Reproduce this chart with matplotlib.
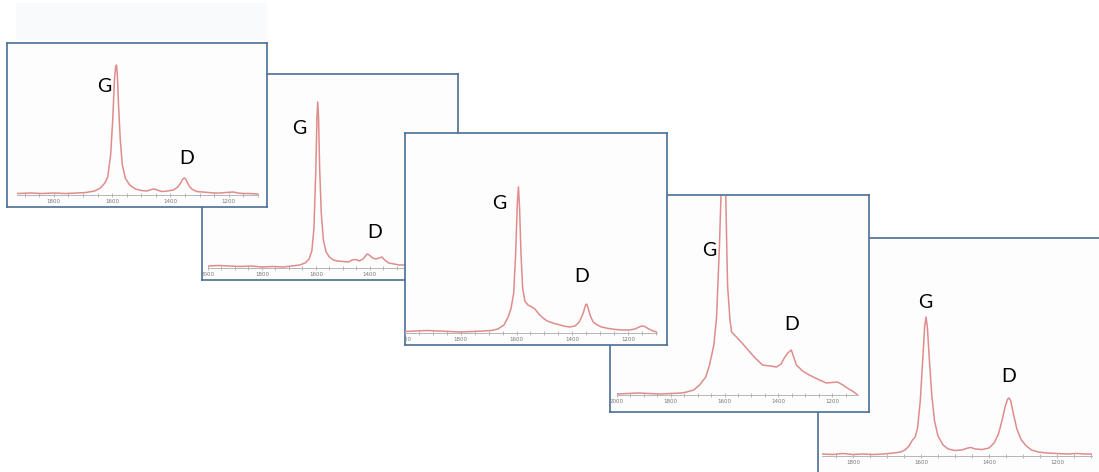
# Espectros Raman - bandas G e D em cinco amostras
import matplotlib.pyplot as plt
from matplotlib.ticker import MultipleLocator

# Deslocamento Raman (cm-1) e intensidade (u.a.) de cada amostra
wn1 = [1925, 1880, 1840, 1800, 1760, 1720, 1690, 1660, 1640, 1625, 1615, 1605,
       1598, 1592, 1588, 1585, 1582, 1578, 1572, 1565, 1555, 1540, 1520, 1500,
       1480, 1465, 1455, 1445, 1430, 1410, 1390, 1375, 1365, 1358, 1352, 1348,
       1343, 1336, 1325, 1310, 1290, 1270, 1250, 1230, 1210, 1185, 1170, 1150,
       1130, 1100]
int1 = [1.5, 2, 1.5, 2, 1.5, 2, 2.5, 4, 7, 12, 18, 40,
        75, 115, 128, 130, 120, 90, 55, 30, 17, 10, 6, 4.5,
        4, 5.5, 6, 5, 3.5, 4, 5, 8, 12, 16, 17, 16,
        13, 9, 5.5, 3.5, 3, 2.5, 2, 2, 2.5, 3, 2, 1.5,
        1.5, 1]

wn2 = [2000, 1960, 1920, 1880, 1840, 1800, 1760, 1720, 1690, 1660, 1640, 1625,
       1615, 1607, 1600, 1596, 1593, 1590, 1586, 1580, 1572, 1562, 1550, 1535,
       1520, 1500, 1480, 1465, 1450, 1440, 1425, 1410, 1402, 1390, 1378, 1365,
       1355, 1345, 1330, 1310, 1290, 1260, 1230, 1200, 1150, 1110]
int2 = [2, 2.5, 2, 1.5, 2, 1, 1.5, 1, 2, 3, 5, 9,
        17, 40, 100, 150, 166, 150, 100, 55, 28, 16, 11, 8,
        7, 6.5, 6, 8, 8.5, 7, 9, 14, 13, 10, 9, 10,
        11, 8, 5, 4, 3, 3, 2.5, 2, 2, 2]

wn3 = [2000, 1960, 1920, 1880, 1840, 1800, 1760, 1720, 1690, 1667, 1645, 1630,
       1620, 1610, 1603, 1597, 1593, 1589, 1584, 1578, 1570, 1559, 1545, 1534,
       1520, 1505, 1490, 1470, 1450, 1430, 1410, 1390, 1375, 1362, 1352, 1348,
       1343, 1335, 1325, 1310, 1295, 1270, 1245, 1220, 1195, 1175, 1160, 1150,
       1140, 1125, 1110, 1096]
int3 = [1.5, 2, 2.5, 2, 1.5, 1, 1.5, 2, 2.5, 4, 8, 16,
        24, 40, 80, 130, 146, 125, 80, 45, 32, 28, 26, 24,
        19, 15, 12, 10, 8.5, 7, 6, 7, 11, 19, 28, 29,
        25, 17, 11, 8, 6, 4.5, 3.5, 3, 3, 4, 6, 7,
        6.5, 4, 2, 1]

wn4 = [2000, 1960, 1920, 1880, 1840, 1800, 1760, 1741, 1715, 1693, 1670, 1656,
       1640, 1630, 1619, 1610, 1604, 1598, 1589, 1580, 1574, 1556, 1535, 1519,
       1490, 1459, 1430, 1407, 1390, 1378, 1365, 1352, 1343, 1333, 1310, 1285,
       1255, 1222, 1200, 1181, 1160, 1144, 1125, 1107]
int4 = [1, 1.5, 2, 1.5, 1, 1.5, 2, 3, 5, 10, 18, 30,
        50, 77, 150, 230, 260, 230, 110, 75, 63, 58, 52, 47,
        38, 30, 29, 28, 31, 37, 42, 45, 38, 30, 24, 20,
        16, 12, 12.5, 13, 10, 7, 4, 0.5]

wn5 = [1891, 1860, 1830, 1800, 1770, 1740, 1710, 1680, 1660, 1647, 1635, 1625,
       1617, 1610, 1602, 1595, 1589, 1585, 1581, 1575, 1568, 1560, 1550, 1535,
       1520, 1500, 1480, 1462, 1453, 1440, 1420, 1400, 1385, 1372, 1362, 1352,
       1345, 1341, 1336, 1328, 1318, 1305, 1290, 1275, 1255, 1230, 1200, 1170,
       1140, 1120, 1097]
int5 = [2, 1.5, 2.5, 1.5, 2, 1.5, 2, 3, 4, 6, 10, 16,
        19, 28, 55, 95, 130, 139, 128, 95, 60, 35, 20, 11,
        7, 5.5, 6, 8, 8.5, 7, 6.5, 8, 13, 22, 35, 50,
        57, 58, 55, 42, 27, 16, 10, 6, 4, 3, 2.5, 2,
        2.5, 2, 2]

tick_values = [2000, 1800, 1600, 1400, 1200]
band_labels = ['G', 'D']

W, H = 1099, 472
fig = plt.figure(figsize=(W / 100, H / 100), dpi=100)
fig.patch.set_facecolor('white')


def px_axes(x0, y0, x1, y1):
    return fig.add_axes([x0 / W, 1 - y1 / H, (x1 - x0) / W, (y1 - y0) / H])


# faixa clara no canto superior esquerdo
bg = px_axes(16, 3, 267, 40)
bg.set_facecolor('#f9fafb')
bg.set_xticks([])
bg.set_yticks([])
for s in bg.spines.values():
    s.set_visible(False)
bg.set_zorder(0)


def painel(frame, inner, wn, inten, xlim, pos_g, pos_d, z):
    # moldura
    fr = px_axes(*frame)
    fr.set_facecolor('#fdfdfd')
    fr.set_xticks([])
    fr.set_yticks([])
    for s in fr.spines.values():
        s.set_color('#4a6f96')
        s.set_linewidth(1.2)
    fr.set_zorder(z)

    # area do grafico
    x0, y0, x1, y1 = inner
    ax = px_axes(x0, y0, x1, y1)
    ax.set_zorder(z + 1)
    ax.patch.set_visible(False)
    ax.plot(wn, inten, color='#e08c8c', lw=1.1)
    ax.set_xticks(tick_values)
    ax.set_xticklabels([str(v) for v in tick_values])
    ax.set_xlim(*xlim)
    ax.set_ylim(0, y1 - y0)
    for k in ['top', 'left', 'right']:
        ax.spines[k].set_visible(False)
    ax.spines['bottom'].set_color('#b5b5b5')
    ax.spines['bottom'].set_linewidth(0.7)
    ax.set_yticks([])
    ax.xaxis.set_minor_locator(MultipleLocator(50))
    ax.tick_params(axis='x', which='both', direction='inout', length=2.5,
                   width=0.5, color='#999999', labelsize=4, labelcolor='#777777',
                   pad=1.5)
    for lab in ax.get_xticklabels():
        lab.set_clip_box(fr.bbox)
        lab.set_clip_on(True)

    # rotulos das bandas
    for txt, (xp, yp) in zip(band_labels, [pos_g, pos_d]):
        fig.text(xp / W, 1 - yp / H, txt, ha='center', va='center',
                 fontsize=14, family='Lato', color='black', zorder=z + 1.5)


painel((7, 43, 267, 207), (17, 44, 258, 195), wn1, int1, (1926, 1100),
       (104, 86), (187, 158), 8)
painel((202, 74, 458, 280), (208, 75, 448, 268), wn2, int2, (2000, 1110),
       (299, 128), (375, 232), 4)
painel((405, 133, 667, 345), (405, 134, 657, 333), wn3, int3, (2000, 1096),
       (499, 203), (582, 277), 8)
painel((610, 195, 869, 412), (617, 196, 858, 395), wn4, int4, (2000, 1104),
       (709, 251), (792, 324), 6)
painel((818, 238, 1115, 490), (822, 239, 1092, 456), wn5, int5, (1891, 1097),
       (925, 302), (1009, 376), 2)

plt.savefig('out.png', dpi=100)
